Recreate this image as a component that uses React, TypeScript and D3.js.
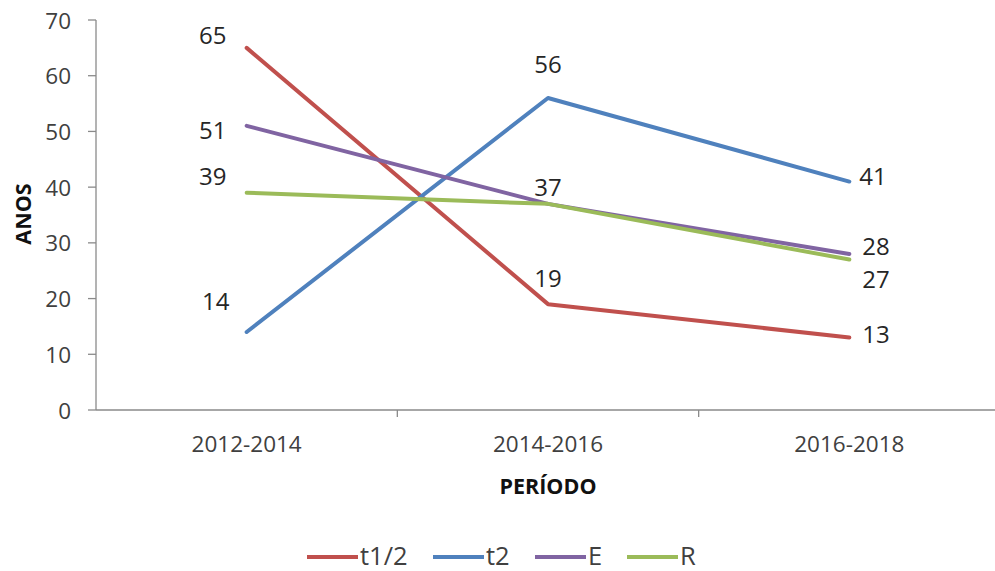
import React from "react";
import * as d3 from "d3";

const categories = ["2012-2014", "2014-2016", "2016-2018"];
const seriesNames = ["t1/2", "t2", "E", "R"];
const seriesT12 = [65, 19, 13];
const seriesT2 = [14, 56, 41];
const seriesE = [51, 37, 28];
const seriesR = [39, 37, 27];
const yTicks = [0, 10, 20, 30, 40, 50, 60, 70];
const yTitle = "ANOS";
const xTitle = "PERÍODO";

const seriesValues = [seriesT12, seriesT2, seriesE, seriesR];
const colors = ["#C0504D", "#4F81BD", "#8064A2", "#9BBB59"];

// label placement (layout): [dx, dy, anchor] relative to the point; null = hidden
type LOff = [number, number, string] | null;
const labelOffsets: LOff[][] = [
  [[-34, -13, "middle"], [0, -27, "middle"], [13, -4, "start"]],
  [[-31, -32, "middle"], [0, -35, "middle"], [10, -6, "start"]],
  [[-34, 4, "middle"], [0, -17, "middle"], [13, -9, "start"]],
  [[-34, -17, "middle"], null, [13, 19, "start"]],
];

const W = 995;
const H = 571;
const FONT = "'Open Sans', 'Noto Sans', sans-serif";

export default function App() {
  const x = d3.scaleBand<string>().domain(categories).range([96, 1000]).padding(0);
  const y = d3.scaleLinear().domain([0, 70]).range([410, 20]);
  const cx = (c: string) => (x(c) as number) + x.bandwidth() / 2;
  const line = d3
    .line<number>()
    .x((_, i) => cx(categories[i]))
    .y((v) => y(v));

  const boundaries = categories.map((c) => (x(c) as number) + x.bandwidth());
  const axisColor = "#8a8a8a";
  const textColor = "#404040";

  const legendItems = [
    { lx: 307, tx: 360 },
    { lx: 433, tx: 486 },
    { lx: 535, tx: 588 },
    { lx: 627, tx: 680 },
  ];

  return (
    <svg
      width={W}
      height={H}
      style={{ position: "absolute", left: 0, top: 0, background: "#fff" }}
      fontFamily={FONT}
    >
      <rect x={0} y={0} width={W} height={H} fill="#fff" />
      {/* y axis */}
      <line x1={96} x2={96} y1={y(70)} y2={y(0)} stroke={axisColor} strokeWidth={1.3} />
      {yTicks.map((t) => (
        <g key={t}>
          <line x1={88} x2={96} y1={y(t)} y2={y(t)} stroke={axisColor} strokeWidth={1.3} />
          <text
            x={71}
            y={y(t)}
            textAnchor="end"
            dominantBaseline="central"
            fontSize={22.5}
            fill={textColor}
          >
            {t}
          </text>
        </g>
      ))}
      {/* x axis */}
      <line x1={96} x2={1000} y1={y(0)} y2={y(0)} stroke={axisColor} strokeWidth={1.3} />
      {boundaries.map((b, i) => (
        <line key={i} x1={b} x2={b} y1={y(0)} y2={y(0) + 7} stroke={axisColor} strokeWidth={1.3} />
      ))}
      {categories.map((c) => (
        <text
          key={c}
          x={cx(c)}
          y={443}
          textAnchor="middle"
          dominantBaseline="central"
          fontSize={22.5}
          fill={textColor}
        >
          {c}
        </text>
      ))}
      {/* titles */}
      <text
        x={548}
        y={485}
        textAnchor="middle"
        dominantBaseline="central"
        fontSize={21.5}
        fontWeight="bold"
        fill="#111"
      >
        {xTitle}
      </text>
      <text
        transform={`translate(22,214) rotate(-90)`}
        textAnchor="middle"
        dominantBaseline="central"
        fontSize={21.5}
        fontWeight="bold"
        fill="#111"
      >
        {yTitle}
      </text>
      {/* lines */}
      {seriesValues.map((vals, si) => (
        <path
          key={si}
          d={line(vals) || ""}
          fill="none"
          stroke={colors[si]}
          strokeWidth={4}
          strokeLinejoin="round"
          strokeLinecap="round"
        />
      ))}
      {/* data labels */}
      {seriesValues.map((vals, si) =>
        vals.map((v, i) => {
          const off = labelOffsets[si][i];
          if (!off) return null;
          return (
            <text
              key={`${si}-${i}`}
              x={cx(categories[i]) + off[0]}
              y={y(v) + off[1]}
              textAnchor={off[2] as any}
              dominantBaseline="central"
              fontSize={24}
              fill="#262626"
            >
              {v}
            </text>
          );
        })
      )}
      {/* legend */}
      {seriesNames.map((n, i) => (
        <g key={n}>
          <line
            x1={legendItems[i].lx}
            x2={legendItems[i].lx + 51}
            y1={557}
            y2={557}
            stroke={colors[i]}
            strokeWidth={4}
          />
          <text
            x={legendItems[i].tx}
            y={555}
            dominantBaseline="central"
            fontSize={25.5}
            fill={textColor}
          >
            {n}
          </text>
        </g>
      ))}
    </svg>
  );
}
